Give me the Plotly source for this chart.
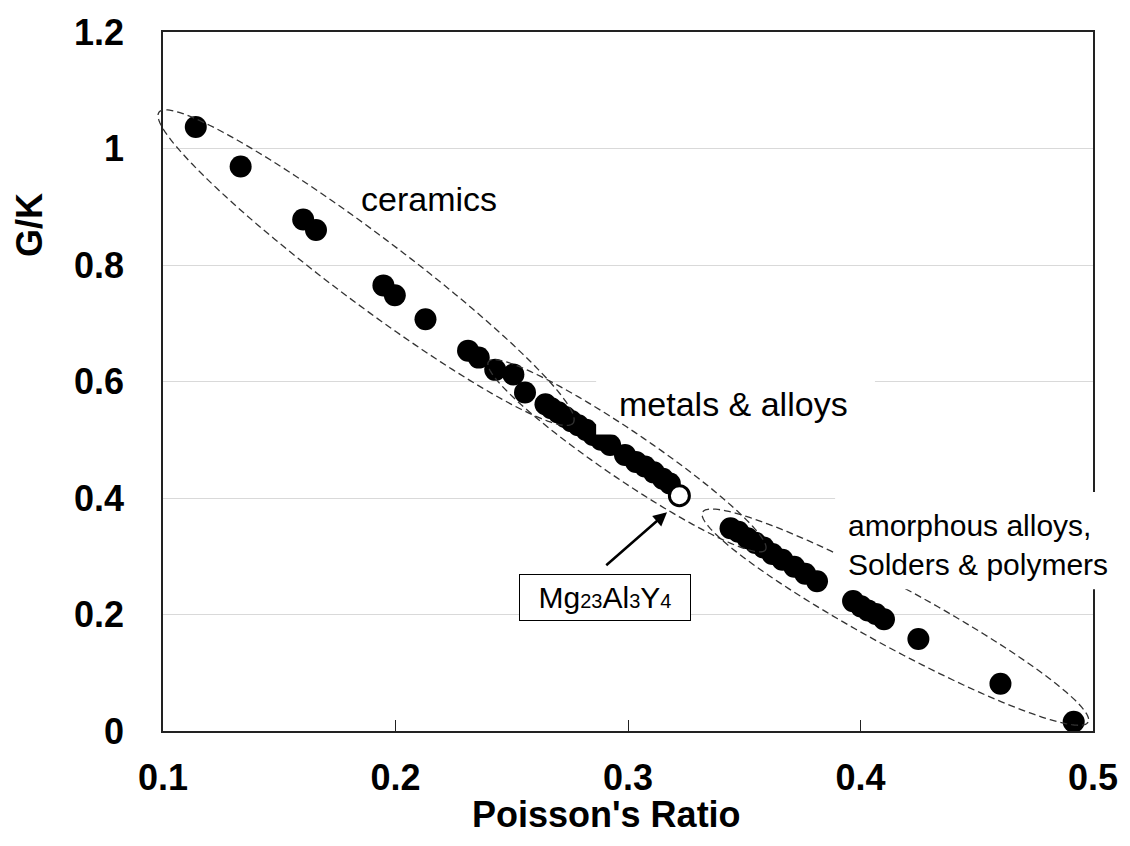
import numpy as np
import plotly.graph_objects as go

# ---------------- data ----------------
poisson_ratio = [0.1141, 0.1334, 0.1603, 0.1658, 0.1948, 0.1997, 0.2129, 0.2312, 0.2358, 0.2429, 0.2507, 0.2557,
                 0.2645, 0.2670, 0.2700, 0.2730, 0.2756, 0.2786, 0.2820, 0.2850, 0.2884, 0.2923, 0.2987, 0.3034,
                 0.3073, 0.3111, 0.3150, 0.3180,
                 0.3441, 0.3475, 0.3514, 0.3548, 0.3583, 0.3621, 0.3664, 0.3715, 0.3762, 0.3813,
                 0.3968, 0.4002, 0.4032, 0.4066, 0.4101, 0.4249, 0.4602, 0.4917]
g_over_k = [1.037, 0.969, 0.878, 0.860, 0.765, 0.748, 0.707, 0.653, 0.641, 0.620, 0.612, 0.581,
            0.561, 0.554, 0.547, 0.539, 0.532, 0.525, 0.517, 0.508, 0.500, 0.491, 0.474, 0.462,
            0.454, 0.444, 0.433, 0.425,
            0.348, 0.342, 0.331, 0.323, 0.315, 0.304, 0.294, 0.282, 0.270, 0.257,
            0.223, 0.214, 0.207, 0.201, 0.192, 0.158, 0.081, 0.016]
highlight_x = [0.3221]
highlight_y = [0.404]

x_tickvals = [0.1, 0.2, 0.3, 0.4, 0.5]
x_ticktext = ["0.1", "0.2", "0.3", "0.4", "0.5"]
y_tickvals = [0, 0.2, 0.4, 0.6, 0.8, 1.0, 1.2]
y_ticktext = ["0", "0.2", "0.4", "0.6", "0.8", "1", "1.2"]

# group outlines: long-axis tips (data units) and half width (px)
ellipse_names = ["ceramics", "metals", "amorphous"]
ellipse_tip1 = [(0.0983, 1.0623), (0.2400, 0.634), (0.3321, 0.3756)]
ellipse_tip2 = [(0.2764, 0.5286), (0.3591, 0.311), (0.4979, 0.0153)]
ellipse_halfwidth_px = [34.5, 24, 30]

# ---------------- layout geometry ----------------
FIG_W, FIG_H = 1130, 846
L, R, T, B = 163, 33, 26, 115
PW, PH = FIG_W - L - R, FIG_H - T - B
XR = [0.1, 0.5]
YR = [0.0, 1.2]
FONT = "Liberation Sans, Arial, Helvetica, sans-serif"


def d2p(x, y):
    px = L + (x - XR[0]) / (XR[1] - XR[0]) * PW
    py = T + (YR[1] - y) / (YR[1] - YR[0]) * PH
    return px, py


def pix2paper(px, py):
    return (px - L) / PW, 1 - (py - T) / PH


def ellipse_path(t1, t2, b, n=200):
    x1, y1 = d2p(*t1)
    x2, y2 = d2p(*t2)
    cx, cy = (x1 + x2) / 2, (y1 + y2) / 2
    a = np.hypot(x2 - x1, y2 - y1) / 2
    th = np.arctan2(y2 - y1, x2 - x1)
    t = np.linspace(0, 2 * np.pi, n)
    px = cx + a * np.cos(t) * np.cos(th) - b * np.sin(t) * np.sin(th)
    py = cy + a * np.cos(t) * np.sin(th) + b * np.sin(t) * np.cos(th)
    pts = [pix2paper(u, v) for u, v in zip(px, py)]
    return "M " + " L ".join(f"{u:.5f},{v:.5f}" for u, v in pts) + " Z"


def white_rect(x0, y0, x1, y1):
    p0 = pix2paper(x0, y0)
    p1 = pix2paper(x1, y1)
    return dict(type="rect", xref="paper", yref="paper", x0=p0[0], y0=p1[1], x1=p1[0], y1=p0[1],
                fillcolor="white", line=dict(width=0), layer="above")


def ellipse_shape(i):
    return dict(type="path", xref="paper", yref="paper",
                path=ellipse_path(ellipse_tip1[i], ellipse_tip2[i], ellipse_halfwidth_px[i]),
                line=dict(color="#333333", width=1.3, dash="7px,4px"), layer="above")


fig = go.Figure()
fig.add_trace(go.Scatter(x=poisson_ratio, y=g_over_k, mode="markers",
                         marker=dict(size=22, color="black", line=dict(width=0)),
                         showlegend=False, cliponaxis=False))
fig.add_trace(go.Scatter(x=highlight_x, y=highlight_y, mode="markers",
                         marker=dict(size=20, color="white", line=dict(width=3, color="black")),
                         showlegend=False, cliponaxis=False))

shapes = [
    ellipse_shape(0),
    white_rect(598, 370, 878, 432),
    ellipse_shape(1),
    ellipse_shape(2),
    white_rect(838, 490, 1130, 588),
]

annotations = []


def ann(text, px, py, size, **kw):
    xp, yp = pix2paper(px, py)
    d = dict(text=text, x=xp, y=yp, xref="paper", yref="paper", showarrow=False,
             xanchor="center", yanchor="middle",
             font=dict(family=FONT, size=size, color="black"))
    d.update(kw)
    annotations.append(d)


ann("ceramics", 430, 194, 34)
ann("metals &amp; alloys", 736, 401, 34)
ann("amorphous alloys,<br>Solders &amp; polymers", 849, 543, 30, xanchor="left", align="left")
ann("Mg<span style='font-size:20px'>23</span>Al<span style='font-size:20px'>3</span>"
    "Y<span style='font-size:20px'>4</span>", 607, 596.5, 30,
    bordercolor="black", borderwidth=1, bgcolor="white", width=168, height=43)
ann("<b>G/K</b>", 29, 221, 36, textangle=-90)
ann("<b>Poisson's Ratio</b>", 608, 815, 36)

# arrow pointing to the highlighted alloy
annotations.append(dict(x=0.3168, y=0.3756, xref="x", yref="y", ax=0.2900, ay=0.2822,
                        axref="x", ayref="y", text="", showarrow=True, arrowhead=2,
                        arrowsize=1.1, arrowwidth=2.5, arrowcolor="black", standoff=0))

fig.update_layout(
    width=FIG_W, height=FIG_H,
    margin=dict(l=L, r=R, t=T, b=B, pad=0),
    paper_bgcolor="white", plot_bgcolor="white",
    shapes=shapes, annotations=annotations,
    font=dict(family=FONT, color="black"),
    xaxis=dict(range=XR, tickvals=x_tickvals, ticktext=x_ticktext, ticks="inside", ticklen=11,
               tickwidth=1.3, tickcolor="#222", showgrid=False, zeroline=False,
               showline=True, linecolor="#222", linewidth=1.5, mirror=True,
               tickfont=dict(family=FONT, size=36, color="black", weight="bold"),
               ticklabelstandoff=14),
    yaxis=dict(range=YR, tickvals=y_tickvals, ticktext=y_ticktext, ticks="", showgrid=True,
               gridcolor="#d9d9d9", gridwidth=1, zeroline=False,
               showline=True, linecolor="#222", linewidth=1.5, mirror=True,
               tickfont=dict(family=FONT, size=36, color="black", weight="bold"),
               ticklabelstandoff=30),
)

fig.write_html("out.html", config={"displayModeBar": False},
               post_script="document.body.style.margin='0';")
